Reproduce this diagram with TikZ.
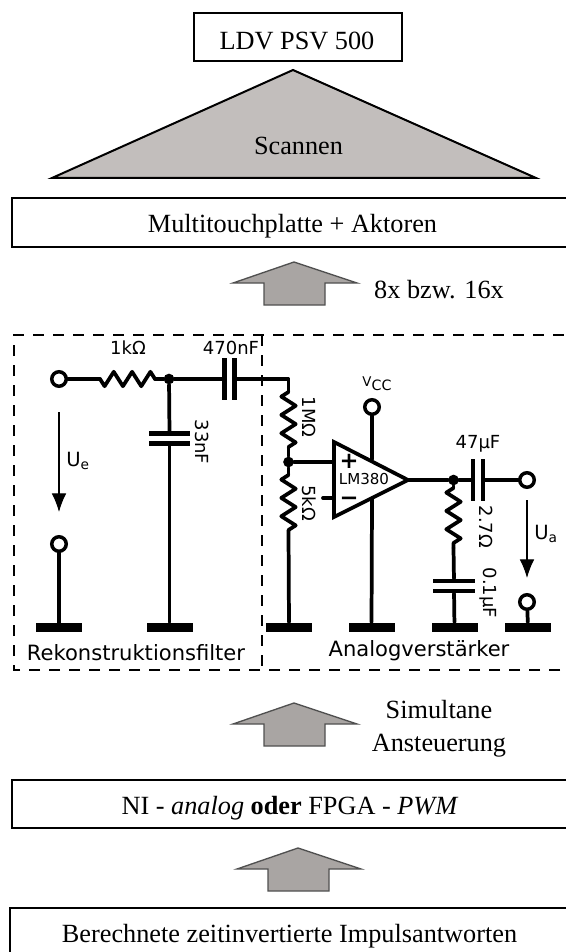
\documentclass[tikz,border=0pt]{standalone}
\usepackage{fontspec}
\setmainfont{Liberation Serif}
\newfontfamily\cktfont{DejaVu Sans}
\usepackage{tikz}
\usetikzlibrary{calc,arrows.meta,decorations.pathmorphing}
\definecolor{tri-gray}{HTML}{C2BEBC}
\definecolor{arrow-gray}{HTML}{A9A5A3}
\definecolor{arrow-edge}{HTML}{505050}
\tikzset{
    plainbox/.style={draw, fill=white, line width=1.5pt, minimum height=36.5pt, inner sep=0pt},
    serif/.style={font=\fontsize{19.7}{23}\selectfont, anchor=base, inner sep=0pt},
    ckt/.style={font=\cktfont\fontsize{13.5}{16}\selectfont, inner sep=0pt},
    title/.style={font=\cktfont\fontsize{15.8}{18}\selectfont, inner sep=0pt},
    wire/.style={line width=2.8pt, line cap=round, line join=round},
    resistor/.style={wire, decorate, decoration={zigzag, mirror, segment length=13.75pt, amplitude=5.4pt}},
    terminal/.style={circle, draw, fill=white, line width=2.6pt, minimum size=10.9pt, inner sep=0pt},
    junction/.style={circle, fill=black, minimum size=8pt, inner sep=0pt},
    groundbar/.style={fill=black, minimum width=34.5pt, minimum height=6.75pt, inner sep=0pt},
    hplate/.style={fill=black, minimum width=31pt, minimum height=3.4pt, inner sep=0pt},
    vplate/.style={fill=black, minimum width=3.4pt, minimum height=31pt, inner sep=0pt},
    voltage/.style={line width=0.8pt, -{Latex[length=14pt, width=11pt]}},
    blockarrow/.style={draw=arrow-edge, fill=arrow-gray, line width=1pt, line join=miter},
    opsign/.style={font=\cktfont\bfseries\fontsize{17}{17}\selectfont, inner sep=0pt, anchor=base, text height=5pt, text depth=0pt}
}

\begin{document}
\begin{tikzpicture}[x=0.75pt, y=-0.75pt]
    \path[use as bounding box, clip] (0,0) rectangle (566,952);
    % blocks above the circuit
    \node[plainbox, minimum width=156pt] (ldv) at (298,37) {};
    \node[serif] (ldvtext) at (297,49.5) {LDV PSV 500};
    \draw[line width=1.5pt, fill=tri-gray, line join=miter] (293,70) -- (536,178) -- (52,178) -- cycle;
    \node[serif] (scan) at (298.5,155) {Scannen};
    \node[plainbox, minimum width=600pt] (platte) at (412,222.5) {};
    \node[serif] (plattetext) at (292.5,233) {Multitouchplatte + Aktoren};
    % block arrows
    \foreach \ax/\ay in {0/0, 0/441, 4/586} {
        \draw[blockarrow, shift={(\ax,\ay)}] (294,262) -- (357,283) -- (325,283) -- (325,305)
            -- (264,305) -- (264,283) -- (233,283) -- cycle;
    }
    \node[serif] (count) at (439,298) {8x bzw. 16x};
    % dashed frames
    \draw[line width=1.5pt, dash pattern=on 8pt off 7pt] (262,335) -- (262,670);
    \draw[line width=1.5pt, dash pattern=on 8pt off 7pt] (620,670) -- (14,670) -- (14,335) -- (620,335);
    % ground bars
    \node[groundbar] (gnda) at (59,627) {};
    \node[groundbar] (gndb) at (169.5,627) {};
    \node[groundbar] (gndc) at (289,627) {};
    \node[groundbar] (gndd) at (371.5,627) {};
    \node[groundbar] (gnde) at (454.5,627) {};
    \node[groundbar] (gndf) at (528,627) {};
    % input side
    \node[terminal] (inA) at (59,379) {};
    \node[terminal] (inB) at (59,544) {};
    \node[junction] (juncA) at (169,379) {};
    \coordinate (rkA) at (100,379);
    \coordinate (rkB) at (155,379);
    \node[vplate] (cinA) at (224.5,379) {};
    \node[vplate] (cinB) at (234.5,379) {};
    \node[hplate] (cfA) at (169.5,433.5) {};
    \node[hplate] (cfB) at (169.5,443.5) {};
    \draw[wire] (inA) -- (rkA);
    \draw[resistor] (rkA) -- (rkB);
    \draw[wire] (rkB) -- (juncA) -- (cinA);
    \draw[wire] (juncA) -- (cfA);
    \draw[wire] (cfB) -- (gndb);
    \draw[wire] (inB) -- (gnda);
    \coordinate (ueA) at (59,412);
    \coordinate (ueB) at (59,512);
    \draw[voltage] (ueA) -- (ueB);
    % divider
    \coordinate (corner) at (288.5,379);
    \coordinate (rmA) at (288.5,392);
    \coordinate (rmB) at (288.5,447);
    \node[junction] (juncB) at (288.5,462) {};
    \coordinate (rfA) at (288.5,475);
    \coordinate (rfB) at (288.5,530);
    \draw[wire] (cinB) -- (corner) -- (rmA);
    \draw[resistor] (rmA) -- (rmB);
    \draw[wire] (rmB) -- (juncB) -- (rfA);
    \draw[resistor] (rfA) -- (rfB);
    \draw[wire] (rfB) -- (gndc);
    % amplifier
    \node[terminal] (vcc) at (372,407) {};
    \coordinate (opplus) at (334,462);
    \coordinate (opminus) at (334,498);
    \coordinate (opout) at (408,480);
    \coordinate (optop) at (372,459);
    \coordinate (opbot) at (372,498);
    \coordinate (stub) at (323,498);
    \draw[wire] (vcc) -- (optop);
    \draw[wire] (opbot) -- (gndd);
    \draw[wire] (juncB) -- (opplus);
    \draw[wire] (stub) -- (opminus);
    \draw[wire, line join=miter] (334,442) -- (334,517) -- (opout) -- cycle;
    \node[opsign] (plus) at (349,468) {+};
    \node[opsign] (minus) at (349,505) {\textminus};
    \node[ckt, font=\cktfont\fontsize{11.3}{13}\selectfont] (lm) at (364,479) {LM380};
    % output side
    \node[junction] (juncC) at (453.5,480) {};
    \node[vplate] (coutA) at (473,480) {};
    \node[vplate] (coutB) at (483,480) {};
    \node[terminal] (outA) at (527,480) {};
    \node[terminal] (outB) at (527,602) {};
    \coordinate (rtA) at (453.5,488);
    \coordinate (rtB) at (453.5,548);
    \node[hplate] (cgA) at (454,581) {};
    \node[hplate] (cgB) at (454,591) {};
    \draw[wire] (opout) -- (juncC) -- (coutA);
    \draw[wire] (coutB) -- (outA);
    \draw[wire] (juncC) -- (rtA);
    \draw[resistor] (rtA) -- (rtB);
    \draw[wire] (rtB) -- (cgA);
    \draw[wire] (cgB) -- (gnde);
    \draw[wire] (outB) -- (gndf);
    \coordinate (uaA) at (527,500);
    \coordinate (uaB) at (527,578);
    \draw[voltage] (uaA) -- (uaB);
    % circuit labels
    \node[ckt] (lbA) at (128,348) {1kΩ};
    \node[ckt] (lbB) at (231,348) {470nF};
    \node[ckt, rotate=-90] (lbC) at (202,442) {33nF};
    \node[ckt, font=\cktfont\fontsize{14.7}{17}\selectfont, anchor=west] (lbUe) at (66,461) {U\textsubscript{e}};
    \node[ckt, font=\cktfont\fontsize{14.7}{17}\selectfont, anchor=west] (lbUa) at (534,534) {U\textsubscript{a}};
    \node[ckt] (lbVcc) at (377,384) {\raisebox{3pt}{\fontsize{10}{10}\selectfont V}{\fontsize{10.7}{12}\selectfont CC}};
    \node[ckt] (lbD) at (478,444) {47µF};
    \node[ckt, rotate=-90] (lbE) at (309.5,417) {1MΩ};
    \node[ckt, rotate=-90] (lbF) at (309.5,503) {5kΩ};
    \node[ckt, rotate=-90] (lbG) at (486,527) {2.7Ω};
    \node[ckt, rotate=-90] (lbH) at (488,593) {0.1µF};
    \node[title] (filter) at (136,653) {Rekonstruktionsfilter};
    \node[title] (amp) at (419,651) {Analogverstärker};
    % blocks below the circuit
    \node[serif] (simA) at (439,718) {Simultane};
    \node[serif] (simB) at (439,751) {Ansteuerung};
    \node[plainbox, minimum width=600pt] (ni) at (412,804) {};
    \node[serif] (nitext) at (290,814) {NI - \textit{analog} \textbf{oder} FPGA - \textit{PWM}};
    \node[plainbox, minimum width=600pt, minimum height=60pt] (calc) at (410,948) {};
    \node[serif] (calctext) at (289.5,942) {Berechnete zeitinvertierte Impulsantworten};
\end{tikzpicture}
\end{document}
